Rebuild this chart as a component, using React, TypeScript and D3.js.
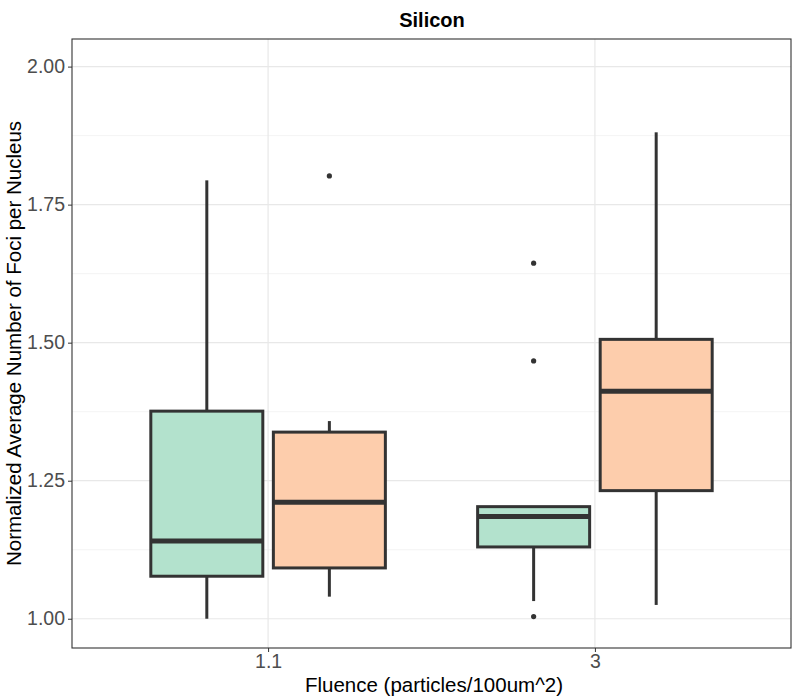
import { useEffect, useRef } from "react";
import * as d3 from "d3";

// fluence categories and the two groups drawn side by side
const fluences = ["1.1", "3"];
const groups = ["A", "B"];
const fills = ["#b3e2cd", "#fdcdac"];

// box stats: [lowerWhisker, q1, median, q3, upperWhisker]
const statsA = [
  [1.0, 1.077, 1.141, 1.376, 1.794],
  [1.032, 1.13, 1.185, 1.203, 1.203],
];
const statsB = [
  [1.04, 1.092, 1.211, 1.338, 1.358],
  [1.025, 1.232, 1.412, 1.506, 1.881],
];
const outliersA = [[], [1.644, 1.467, 1.004]];
const outliersB = [[1.802], []];

const yTicks = [1.0, 1.25, 1.5, 1.75, 2.0];

export default function App() {
  const ref = useRef<SVGSVGElement>(null);

  useEffect(() => {
    const W = 794, H = 700;
    const m = { top: 39, right: 3, bottom: 52, left: 72 };
    const w = W - m.left - m.right;
    const h = H - m.top - m.bottom;
    const svg = d3.select(ref.current);
    svg.selectAll("*").remove();
    svg.style("font-family", "'Liberation Sans', Arial, sans-serif");

    const g = svg.append("g").attr("transform", `translate(${m.left},${m.top})`);

    const x = d3.scalePoint().domain(fluences).range([0, w]).padding(0.6);
    const y = d3.scaleLinear().domain([0.947, 2.05]).range([h, 0]);
    const step = x.step();
    const sub = d3.scaleBand().domain(groups).range([-0.375 * step, 0.375 * step]);
    const boxW = 112;

    // grid
    const minor = d3.range(0.875, 2.1, 0.25);
    g.selectAll(".minor").data(minor.filter(v => y(v) >= 0 && y(v) <= h)).enter().append("line")
      .attr("x1", 0).attr("x2", w).attr("y1", d => y(d)).attr("y2", d => y(d))
      .attr("stroke", "#f0f0f0").attr("stroke-width", 0.8);
    g.selectAll(".major").data(yTicks).enter().append("line")
      .attr("x1", 0).attr("x2", w).attr("y1", d => y(d)).attr("y2", d => y(d))
      .attr("stroke", "#e8e8e8").attr("stroke-width", 1.2);
    g.selectAll(".vmajor").data(fluences).enter().append("line")
      .attr("x1", d => x(d)!).attr("x2", d => x(d)!).attr("y1", 0).attr("y2", h)
      .attr("stroke", "#e8e8e8").attr("stroke-width", 1.2);

    const all = [statsA, statsB];
    const outs = [outliersA, outliersB];
    groups.forEach((gr, gi) => {
      fluences.forEach((f, fi) => {
        const [lo, q1, med, q3, hi] = all[gi][fi];
        const cx = x(f)! + sub(gr)! + sub.bandwidth() / 2;
        const bg = g.append("g");
        bg.append("line").attr("x1", cx).attr("x2", cx).attr("y1", y(hi)).attr("y2", y(q3))
          .attr("stroke", "#333").attr("stroke-width", 3);
        bg.append("line").attr("x1", cx).attr("x2", cx).attr("y1", y(q1)).attr("y2", y(lo))
          .attr("stroke", "#333").attr("stroke-width", 3);
        bg.append("rect").attr("x", cx - boxW / 2).attr("width", boxW)
          .attr("y", y(q3)).attr("height", y(q1) - y(q3))
          .attr("fill", fills[gi]).attr("stroke", "#333").attr("stroke-width", 3);
        bg.append("line").attr("x1", cx - boxW / 2).attr("x2", cx + boxW / 2)
          .attr("y1", y(med)).attr("y2", y(med)).attr("stroke", "#333").attr("stroke-width", 5);
        bg.selectAll("circle").data(outs[gi][fi]).enter().append("circle")
          .attr("cx", cx).attr("cy", d => y(d)).attr("r", 2.6).attr("fill", "#333");
      });
    });

    // panel border
    g.append("rect").attr("width", w).attr("height", h)
      .attr("fill", "none").attr("stroke", "#333").attr("stroke-width", 1.1);

    // axes
    const ya = g.append("g").call(d3.axisLeft(y).tickValues(yTicks).tickFormat(d3.format(".2f")).tickSize(4));
    ya.select(".domain").remove();
    ya.selectAll("line").attr("stroke", "#333");
    ya.selectAll("text").attr("fill", "#4d4d4d").style("font-size", "19.5px").attr("x", -7);

    const xa = g.append("g").attr("transform", `translate(0,${h})`)
      .call(d3.axisBottom(x).tickSize(4));
    xa.select(".domain").remove();
    xa.selectAll("line").attr("stroke", "#333");
    xa.selectAll("text").attr("fill", "#4d4d4d").style("font-size", "19.5px").attr("y", 6);

    svg.append("text").attr("x", 432).attr("y", 27).attr("text-anchor", "middle")
      .style("font-size", "20px").style("font-weight", "bold").text("Silicon");
    svg.append("text").attr("x", 434).attr("y", 692).attr("text-anchor", "middle")
      .style("font-size", "20.5px").text("Fluence (particles/100um^2)");
    svg.append("text").attr("transform", `translate(21,${m.top + h / 2}) rotate(-90)`)
      .attr("text-anchor", "middle").style("font-size", "20.5px")
      .text("Normalized Average Number of Foci per Nucleus");
  }, []);

  return <svg ref={ref} width={794} height={700} style={{ position: "absolute", left: 0, top: 0 }} />;
}
